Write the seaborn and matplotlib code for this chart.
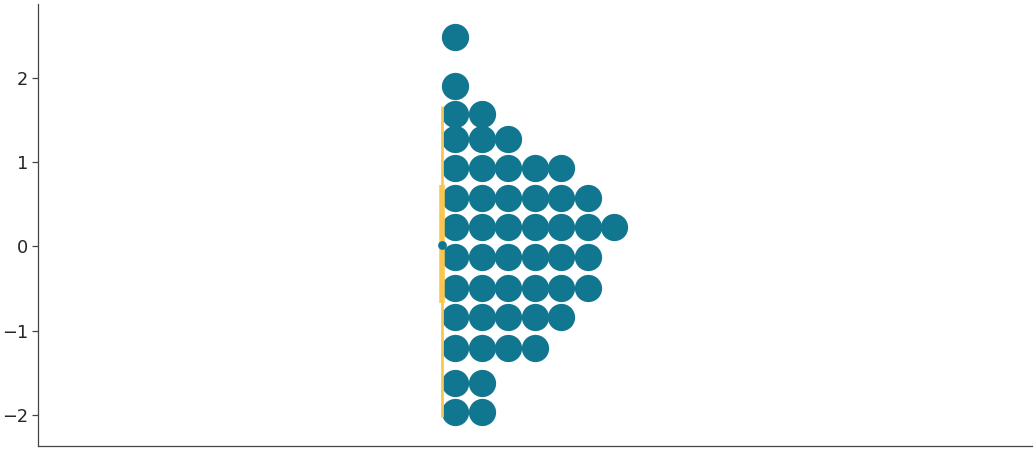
import numpy as np
import pandas as pd
import seaborn as sns
import matplotlib.pyplot as plt

# binned values (bin centre) and how many dots sit in each bin
bin_centers = [2.49, 1.905, 1.569, 1.276, 0.932, 0.579, 0.228,
               -0.125, -0.493, -0.837, -1.205, -1.620, -1.964]
bin_counts = [1, 1, 2, 3, 5, 6, 7, 6, 6, 5, 4, 2, 2]

# point + interval summary
median = 0.018
inner_interval = [-0.674, 0.73]
outer_interval = [-2.02, 1.668]

dot_color = "#11768f"
line_color = "#f9c74f"

# expand the bins into stacked dots
rows = []
for y, n in zip(bin_centers, bin_counts):
    for i in range(n):
        rows.append({"stack": 0.5 + i, "value": y})
dots_df = pd.DataFrame(rows)

sns.set_theme(style="ticks")
plt.rcParams['font.family'] = ['DejaVu Sans']

fig = plt.figure(figsize=(10.35, 4.5), dpi=100)
ax = fig.add_axes([38 / 1035, 4 / 450, 994 / 1035, 442 / 450])

sns.scatterplot(data=dots_df, x="stack", y="value", s=385, color=dot_color,
                linewidth=0, ax=ax, zorder=2)

# interval lines
ax.vlines(0, outer_interval[0], outer_interval[1], color=line_color, lw=2, zorder=3)
ax.vlines(0, inner_interval[0], inner_interval[1], color=line_color, lw=4, zorder=3)
sns.scatterplot(x=[0], y=[median], s=40, color=dot_color, linewidth=0, ax=ax, zorder=4)

ax.set_xlim(-404 / 26.5, 590 / 26.5)
ax.set_ylim(-2.368, 2.878)
ax.set_yticks([-2, -1, 0, 1, 2])
ax.set_xticks([])
ax.set_xlabel("")
ax.set_ylabel("")
ax.tick_params(axis="y", labelsize=12.8, length=4, width=0.9, pad=3,
               color="#444444", labelcolor="#262626")
sns.despine(ax=ax)
for side in ["left", "bottom"]:
    ax.spines[side].set_linewidth(0.9)
    ax.spines[side].set_color("#444444")

fig.savefig("out.png", dpi=100)
